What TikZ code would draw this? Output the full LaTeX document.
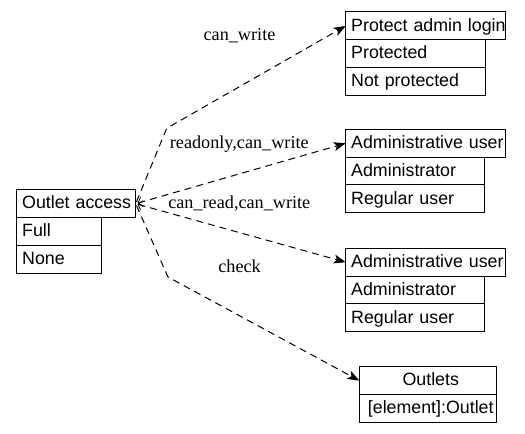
\documentclass[tikz,border=0pt]{standalone}
\usepackage{fontspec}
\setmainfont{Liberation Serif}
\newfontfamily\boxfont{Liberation Sans}
\usetikzlibrary{arrows.meta}
\tikzset{
  row/.style={draw, line width=1bp, anchor=north west, inner xsep=0pt, inner ysep=0pt, outer sep=0pt,
    minimum height=27.8bp, text height=14bp, text depth=3.4bp, align=left,
    execute at begin node={\hspace*{5.5bp}},
    font=\boxfont\fontsize{17.8bp}{21bp}\selectfont},
  crow/.style={row, align=center, execute at begin node={}},
  conn/.style={line width=1bp, dash pattern=on 7bp off 5bp,
    -{Stealth[length=12bp,width=9bp,inset=3bp]}},
  barb/.style={{Straight Barb[length=4bp,width=10bp,line width=0.8bp]}-{Stealth[length=12bp,width=9bp,inset=3bp]}},
  lbl/.style={anchor=base, inner sep=0pt, font=\fontsize{18.2bp}{21bp}\selectfont}
}
\begin{document}
\begin{tikzpicture}[x=1bp,y=-1bp]
\useasboundingbox (0,0) rectangle (525,434);
% Outlet access
\node[row, text width=119bp] (oa) at (16.7,189.8) {Outlet access};
\node[row, text width=85bp] (full) at (oa.south west) {Full};
\node[row, text width=85bp] (none) at (full.south west) {None};
% Protect admin login
\node[row, text width=160bp] (pal) at (345.7,12) {Protect admin login};
\node[row, text width=140bp] (prot) at (pal.south west) {Protected};
\node[row, text width=140bp] (notp) at (prot.south west) {Not protected};
% Administrative user 1
\node[row, text width=160bp] (au1) at (345.7,129.4) {Administrative user};
\node[row, text width=139bp] (adm1) at (au1.south west) {Administrator};
\node[row, text width=139bp] (reg1) at (adm1.south west) {Regular user};
% Administrative user 2
\node[row, text width=160bp] (au2) at (345.7,248.3) {Administrative user};
\node[row, text width=139bp] (adm2) at (au2.south west) {Administrator};
\node[row, text width=139bp] (reg2) at (adm2.south west) {Regular user};
% Outlets
\node[crow, text width=137.4bp] (outl) at (359.3,366.7) {Outlets};
\node[crow, text width=137.4bp] (elem) at (outl.south west) {[element]:Outlet};
% bends
\coordinate (b1) at (166.7,128.3);
\coordinate (b4) at (168,277);
% connectors
\draw[conn, shorten <=2bp] (oa.east) -- (b1) -- (pal.west);
\draw[conn, barb, shorten <=2bp] (oa.east) -- (au1.west);
\draw[conn, barb, shorten <=2bp] (oa.east) -- (au2.west);
\draw[conn, shorten <=2bp] (oa.east) -- (b4) -- (outl.west);
% labels
\node[lbl] (l1) at (239.5,41) {can\_write};
\node[lbl] (l2) at (239.3,148.3) {readonly,can\_write};
\node[lbl] (l3) at (239.3,208.3) {can\_read,can\_write};
\node[lbl] (l4) at (239.6,272.7) {check};
\end{tikzpicture}
\end{document}
